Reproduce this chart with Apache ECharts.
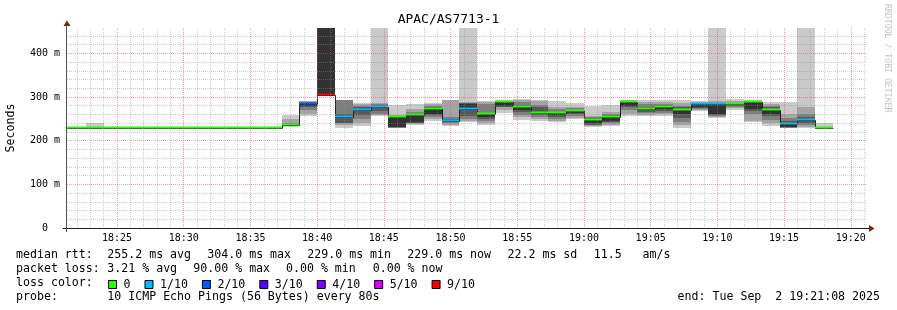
<!DOCTYPE html>
<html><head><meta charset="utf-8">
<script src="https://cdn.jsdelivr.net/npm/echarts@6/dist/echarts.min.js"></script>
<style>html,body{margin:0;padding:0;background:#fff}#c{width:897px;height:310px}</style>
</head><body><div id="c"></div>
<script>
// ---- data (time in seconds after 18:00, 80 s steps) ----
const stepStart = 1200;
const stepLen = 80;
const xMin = 1275, xMax = 4873;
const yMax = 458;
const medianMs = [229,229,229,229,229,229,229,229,229,229,229,229,229,
  237,283,304,254,271,278,255,259,272,245,272,261,289,277,263,263,268,248,254,289,273,277,271,284,283,283,289,271,239,247,229];
const lossCount = [0,0,0,0,0,0,0,0,0,0,0,0,0,
  0,2,9,1,1,1,0,0,0,1,1,0,0,0,0,0,0,0,0,0,0,0,0,1,1,0,0,0,1,1,0];
const pings = [null,null,[229,229,229,229,229,229,229,229,229,240],null,null,null,null,null,null,null,null,null,null,
  [231,233,234,235,236,237,238,240,250,258],
  [257,262,270,276,280,284,286,288,290,291],
  [304,304,304,304,304,600,600,600,600,600],
  [230,235,240,241,252,254,260,292,293,294],
  [233,240,250,258,268,273,277,280,284,286],
  [256,259,262,268,276,279,282,285,287,600],
  [229,230,230,231,231,256,257,257,258,282],
  [235,238,240,241,242,259,262,266,272,285],
  [246,250,254,258,262,272,276,280,284,287],
  [233,236,240,242,243,245,250,255,292,294],
  [242,246,250,256,272,285,286,287,288,600],
  [235,240,246,250,255,261,264,285,288,290],
  [263,270,276,278,280,288,289,290,291,292],
  [248,255,259,266,270,277,282,288,292,295],
  [246,250,255,259,261,263,277,282,290,294],
  [242,246,250,255,258,262,266,272,278,290],
  [249,252,256,260,264,268,271,274,277,286],
  [231,234,235,236,240,248,252,254,256,280],
  [233,236,240,243,245,254,258,262,266,282],
  [256,262,270,276,280,289,290,291,292,293],
  [257,259,263,266,270,273,276,283,288,292],
  [256,260,263,267,272,277,281,284,288,292],
  [230,236,242,252,262,272,276,280,286,294],
  [268,270,272,274,278,283,285,287,289,291],
  [251,255,257,258,262,283,285,287,290,600],
  [271,274,277,280,282,283,285,287,290,296],
  [242,245,260,268,272,288,289,290,291,293],
  [233,240,248,256,262,271,276,280,285,289],
  [229,230,230,231,232,240,245,252,262,288],
  [229,232,236,240,244,248,254,262,277,600],
  [229,229,229,229,229,229,229,229,229,241]];
const lossLevels = [0,1,2,3,4,5,9];
const lossNames = ['0','1/10','2/10','3/10','4/10','5/10','9/10'];
const lossColors = ['#26ff00','#00b8ff','#0059ff','#5e00ff','#7e00ff','#dd00ff','#ff0000'];
const smokeColors = ['#cacaca','#a4a4a4','#7e7e7e','#585858','#323232'];
const statsRow1 = [['median rtt:',16],['255.2 ms avg',107.3],['304.0 ms max',207.3],['229.0 ms min',307.3],['229.0 ms now',407.3],['22.2 ms sd',507.5],['11.5   am/s',593.7]];
const statsRow2 = [['packet loss:',16],['3.21 % avg',107.3],['90.00 % max',193.3],['0.00 % min',286],['0.00 % now',372.7]];
const statsRow3 = [['loss color:',16]];
const statsRow4 = [['probe:',16],['10 ICMP Echo Pings (56 Bytes) every 80s',107.3]];
const endText = 'end: Tue Sep  2 19:21:08 2025';

const MONO = "'DejaVu Sans Mono', monospace";
const pad = n => (n < 10 ? '0' : '') + n;

const smokeData = [], lineData = [];
const bandData = lossLevels.map(() => []);
medianMs.forEach((m, i) => {
  const t0 = stepStart + i * stepLen, t1 = t0 + stepLen;
  const next = i + 1 < medianMs.length ? medianMs[i + 1] : m;
  if (pings[i]) smokeData.push([t0, t1].concat(pings[i]));
  lineData.push([t0, t1, m, next]);
  bandData[lossLevels.indexOf(lossCount[i])].push([t0, t1, m]);
});

function clip(rect, cs) {
  return echarts.graphic.clipRectByRect(rect, {x: cs.x, y: cs.y, width: cs.width, height: cs.height});
}
function smokeRender(params, api) {
  const cs = params.coordSys;
  const x0 = Math.round(api.coord([api.value(0), 0])[0]);
  const x1 = Math.round(api.coord([api.value(1), 0])[0]);
  const children = [];
  for (let b = 0; b < 5; b++) {
    const yHi = Math.round(api.coord([0, api.value(11 - b)])[1]);
    const yLo = Math.round(api.coord([0, api.value(2 + b)])[1]);
    if (yLo - yHi <= 0) continue;
    const shape = clip({x: x0, y: yHi, width: x1 - x0, height: yLo - yHi}, cs);
    if (shape) children.push({type: 'rect', shape, style: {fill: smokeColors[b]}});
  }
  return {type: 'group', children};
}
function lineRender(params, api) {
  const cs = params.coordSys;
  const x0 = Math.max(cs.x, Math.round(api.coord([api.value(0), 0])[0]));
  const x1 = Math.round(api.coord([api.value(1), 0])[0]);
  const y = Math.round(api.coord([0, api.value(2)])[1]) + 0.5;
  const yn = Math.round(api.coord([0, api.value(3)])[1]) + 0.5;
  if (x1 <= cs.x) return null;
  return {type: 'polyline', shape: {points: [[x0, y], [x1 + 0.5, y], [x1 + 0.5, yn]]},
    style: {stroke: '#202020', lineWidth: 1, fill: null}};
}
function bandRender(params, api) {
  const cs = params.coordSys;
  const x0 = Math.round(api.coord([api.value(0), 0])[0]);
  const x1 = Math.round(api.coord([api.value(1), 0])[0]);
  const yc = Math.round(api.coord([0, api.value(2)])[1]);
  const shape = clip({x: x0, y: yc - 1.5, width: x1 - x0, height: 2}, cs);
  if (!shape) return null;
  return {type: 'rect', shape, style: {fill: api.visual('color')}};
}

const series = [
  {type: 'custom', name: 'smoke', data: smokeData, renderItem: smokeRender, silent: true, z: 2,
   encode: {x: [0, 1], y: [2, 3, 4, 5, 6, 7, 8, 9, 10, 11]}},
  {type: 'custom', name: 'median', data: lineData, renderItem: lineRender, silent: true, z: 3,
   encode: {x: [0, 1], y: [2, 3]}}
];
lossLevels.forEach((l, k) => series.push({
  type: 'custom', name: lossNames[k], data: bandData[k], renderItem: bandRender, silent: true, z: 4,
  itemStyle: {color: lossColors[k]}, encode: {x: [0, 1], y: 2}
}));

const textEls = [];
function addRow(row, y) {
  row.forEach(([t, x]) => textEls.push({type: 'text', x, y, silent: true,
    style: {text: t, font: '11.6px ' + MONO, fill: '#000', align: 'left', verticalAlign: 'middle'}}));
}
addRow(statsRow1, 254.5); addRow(statsRow2, 268.5); addRow(statsRow3, 282.7); addRow(statsRow4, 296.7);
textEls.push({type: 'text', x: 880, y: 296.7, silent: true,
  style: {text: endText, font: '11.6px ' + MONO, fill: '#000', align: 'right', verticalAlign: 'middle'}});
textEls.push({type: 'text', x: 887, y: 4, rotation: -Math.PI / 2, silent: true,
  style: {text: 'RRDTOOL / TOBI OETIKER', font: '8.2px ' + MONO, fill: '#c4c4c4', align: 'left', verticalAlign: 'middle'}});
textEls.push({type: 'line', silent: true, z: 10, shape: {x1: 62.5, y1: 228.5, x2: 869, y2: 228.5}, style: {stroke: '#1f1f1f', lineWidth: 1}});
textEls.push({type: 'line', silent: true, z: 10, shape: {x1: 66.5, y1: 232, x2: 66.5, y2: 25}, style: {stroke: '#555', lineWidth: 1}});
textEls.push({type: 'polygon', silent: true, z: 10, shape: {points: [[869, 225], [874.5, 228.5], [869, 232]]}, style: {fill: '#801f1f'}});
textEls.push({type: 'polygon', silent: true, z: 10, shape: {points: [[63.5, 26], [67, 20.5], [70.5, 26]]}, style: {fill: '#801f1f'}});

const chart = echarts.init(document.getElementById('c'), null, {renderer: 'canvas'});
chart.setOption({
  animation: false,
  backgroundColor: '#fff',
  title: {text: 'APAC/AS7713-1', left: 'center', top: 13, padding: 0,
    textStyle: {fontFamily: MONO, fontSize: 13, fontWeight: 'normal', color: '#000'}},
  legend: {data: lossNames, left: 108, top: 278.5, padding: 0, itemWidth: 8, itemHeight: 8, itemGap: 14,
    icon: 'rect', selectedMode: false, itemStyle: {borderColor: '#000', borderWidth: 1},
    textStyle: {fontFamily: MONO, fontSize: 11.6, color: '#000', padding: [0, 0, 0, 2]}},
  grid: {left: 67, top: 28, width: 800, height: 200, containLabel: false, outerBoundsMode: 'none'},
  xAxis: {type: 'value', min: xMin, max: xMax, minInterval: 300, maxInterval: 300, z: 5,
    axisLine: {show: false}, axisTick: {show: false},
    axisLabel: {showMinLabel: false, showMaxLabel: false, margin: 5, fontFamily: MONO, fontSize: 10, color: '#000',
      formatter: v => pad(18 + Math.floor(v / 3600)) + ':' + pad(Math.floor((v % 3600) / 60))},
    splitLine: {show: true, showMinLine: false, showMaxLine: false, lineStyle: {color: 'rgba(222,79,79,0.55)', type: [1, 1], width: 1}},
    minorTick: {show: false, splitNumber: 5},
    minorSplitLine: {show: true, lineStyle: {color: 'rgba(143,143,143,0.45)', type: [1, 1], width: 1}}},
  yAxis: {type: 'value', min: 0, max: yMax, interval: 100, z: 5,
    name: 'Seconds', nameLocation: 'middle', nameGap: 50, nameRotate: 90,
    nameTextStyle: {fontFamily: MONO, fontSize: 11.6, color: '#000'},
    axisLine: {show: false}, axisTick: {show: false},
    axisLabel: {showMaxLabel: false, margin: 7, fontFamily: MONO, fontSize: 10, color: '#000',
      formatter: v => v === 0 ? '0  ' : v + ' m'},
    splitLine: {show: true, showMinLine: false, showMaxLine: false, lineStyle: {color: 'rgba(222,79,79,0.55)', type: [1, 1], width: 1}},
    minorTick: {show: false, splitNumber: 5},
    minorSplitLine: {show: true, lineStyle: {color: 'rgba(143,143,143,0.45)', type: [1, 1], width: 1}}},
  graphic: textEls,
  series
});
</script></body></html>
